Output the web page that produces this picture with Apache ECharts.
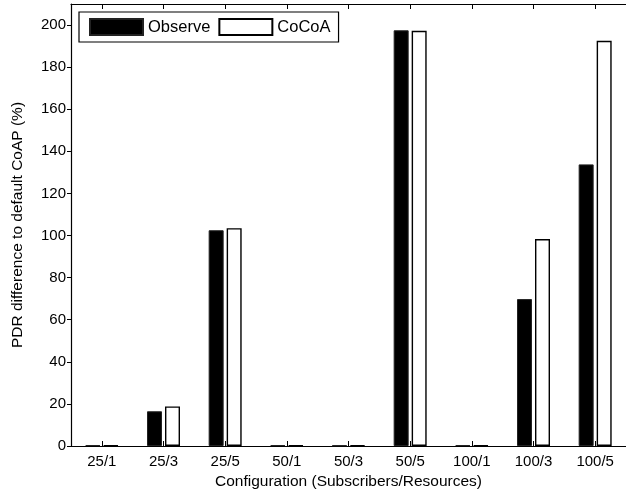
<!DOCTYPE html>
<html>
<head>
<meta charset="utf-8">
<script src="https://cdn.jsdelivr.net/npm/echarts@6/dist/echarts.min.js"></script>
<style>
  html, body { margin: 0; padding: 0; background: #fff; }
  #chart { width: 626px; height: 496px; }
</style>
</head>
<body>
<div id="chart"></div>
<script>
// Configurations (subscribers / resources)
const categories = ['25/1', '25/3', '25/5', '50/1', '50/3', '50/5', '100/1', '100/3', '100/5'];
// PDR difference to default CoAP, in percent
const observeValues = [0.4, 16.5, 102.5, 0.4, 0.3, 197.5, 0.4, 69.8, 133.8];
const cocoaValues = [0.3, 18.8, 103.5, 0.3, 0.3, 197.3, 0.3, 98.3, 192.5];
const yTicks = { min: 0, max: 210, interval: 20 };

const font = 'Liberation Sans, Arial, Helvetica, sans-serif';
const chart = echarts.init(document.getElementById('chart'), null, { renderer: 'canvas' });

const axisLine = { show: true, lineStyle: { color: '#000', width: 1.2 } };

chart.setOption({
  animation: false,
  backgroundColor: '#fff',
  grid: { left: 71, right: -7, top: 4, bottom: 50, containLabel: false },
  legend: {
    left: 79,
    top: 12,
    orient: 'horizontal',
    padding: [6, 8, 6, 10],
    itemGap: 8,
    itemWidth: 53,
    itemHeight: 16,
    borderColor: '#000',
    borderWidth: 1.2,
    icon: 'rect',
    textStyle: { fontFamily: font, fontSize: 16.5, color: '#000', padding: [0, 0, 0, 0] },
    data: ['Observe', 'CoCoA']
  },
  xAxis: [
    {
      type: 'category',
      data: categories,
      position: 'bottom',
      boundaryGap: true,
      axisLine: axisLine,
      axisTick: { show: true, inside: true, length: 5, alignWithLabel: true, lineStyle: { color: '#000' } },
      axisLabel: { fontFamily: font, fontSize: 15, color: '#000', margin: 8 },
      name: 'Configuration (Subscribers/Resources)',
      nameLocation: 'middle',
      nameGap: 28,
      nameTextStyle: { fontFamily: font, fontSize: 15.5, color: '#000' },
      splitLine: { show: false }
    },
    {
      type: 'category',
      data: categories,
      position: 'top',
      boundaryGap: true,
      axisLine: axisLine,
      axisTick: { show: true, inside: true, length: 5, alignWithLabel: true, lineStyle: { color: '#000' } },
      axisLabel: { show: false },
      splitLine: { show: false }
    }
  ],
  yAxis: [
    {
      type: 'value',
      min: yTicks.min,
      max: yTicks.max,
      interval: yTicks.interval,
      position: 'left',
      axisLine: axisLine,
      axisTick: { show: true, inside: false, length: 4, lineStyle: { color: '#000' } },
      axisLabel: { fontFamily: font, fontSize: 15, color: '#000', margin: 5, showMaxLabel: false },
      splitLine: { show: false },
      name: 'PDR difference to default CoAP (%)',
      nameLocation: 'middle',
      nameGap: 45,
      nameTextStyle: { fontFamily: font, fontSize: 15.5, color: '#000' }
    }
  ],
  series: [
    {
      name: 'Observe',
      type: 'bar',
      data: observeValues,
      barWidth: 15,
      barGap: '20%',
      itemStyle: { color: '#000', borderColor: '#222', borderWidth: 1 }
    },
    {
      name: 'CoCoA',
      type: 'bar',
      data: cocoaValues,
      barWidth: 15,
      barGap: '20%',
      itemStyle: { color: '#fff', borderColor: '#000', borderWidth: 1.4 }
    }
  ]
});
</script>
</body>
</html>
